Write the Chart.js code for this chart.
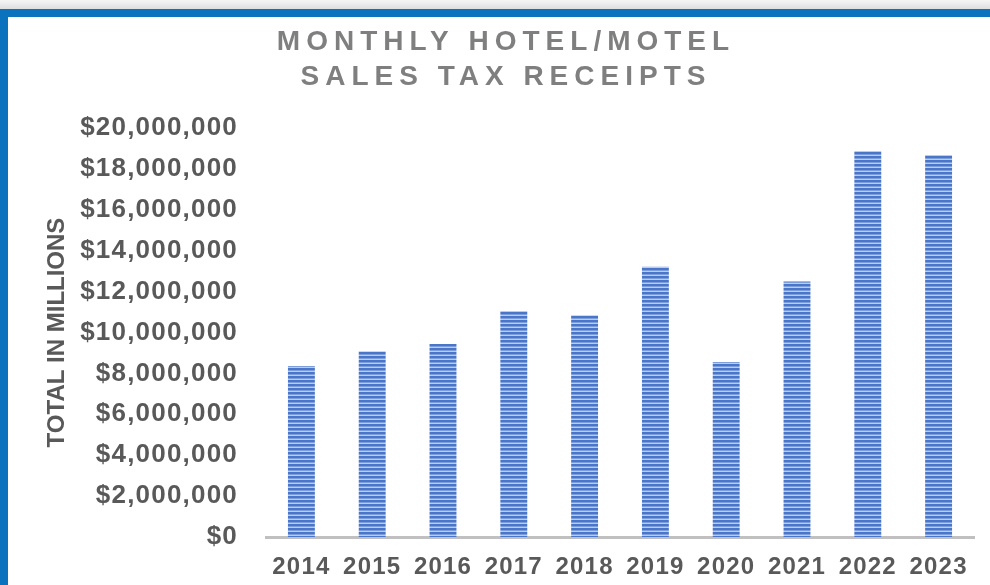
<!DOCTYPE html>
<html>
<head>
<meta charset="utf-8">
<script src="https://cdn.jsdelivr.net/npm/chart.js@4"></script>
<style>
body { margin: 0; background: #fff; }
#wrap { position: relative; width: 990px; height: 585px; overflow: hidden; background: #fff; }
#shade { position: absolute; left: 0; top: 0; width: 990px; height: 9px; background: linear-gradient(#f6f6f6, #dedede); }
#frame { position: absolute; left: 0; top: 9px; width: 1000px; height: 600px; box-sizing: border-box;
  border-top: 8px solid #0b72bd; border-left: 8px solid #0b72bd; }
#MyChart { position: absolute; left: 0; top: 0; }
</style>
</head>
<body>
<div id="wrap">
  <div id="shade"></div>
  <div id="frame"></div>
  <canvas id="MyChart" width="990" height="585"></canvas>
</div>
<script>
const years = ['2014', '2015', '2016', '2017', '2018', '2019', '2020', '2021', '2022', '2023'];
const receipts = [8360000, 9080000, 9440000, 11050000, 10840000, 13220000, 8560000, 12500000, 18880000, 18680000];
const titleLines = ['MONTHLY HOTEL/MOTEL', 'SALES TAX RECEIPTS'];
const yTitle = 'TOTAL IN MILLIONS';

window.addEventListener('load', setup);

function stripes(ctx) {
  const c = document.createElement('canvas');
  c.width = 8;
  c.height = 4;
  const g = c.getContext('2d');
  g.fillStyle = '#bccdec';
  g.fillRect(0, 0, 8, 4);
  g.fillStyle = '#4a76c9';
  g.fillRect(0, 0, 8, 2);
  g.fillStyle = '#7e9ddb';
  g.fillRect(0, 2, 8, 1);
  return ctx.createPattern(c, 'repeat');
}

// wider tick text, and the title drawn by hand so it can get letter spacing
const spacedText = {
  id: 'spacedText',
  beforeDraw(chart) {
    [chart.scales.x, chart.scales.y].forEach(s => {
      if (s._spaced) return;
      const orig = s.drawLabels.bind(s);
      s.drawLabels = area => {
        chart.ctx.letterSpacing = '1.2px';
        orig(area);
        chart.ctx.letterSpacing = '0px';
      };
      s._spaced = true;
    });
  },
  afterDraw(chart) {
    const ctx = chart.ctx;
    ctx.save();
    ctx.font = 'bold 28px "Liberation Sans", Arial, sans-serif';
    ctx.fillStyle = '#7f7f7f';
    ctx.textAlign = 'center';
    ctx.textBaseline = 'middle';
    ctx.letterSpacing = '6px';
    ctx.fillText(titleLines[0], 506, 42);
    ctx.fillText(titleLines[1], 506, 77);
    ctx.restore();
  }
};

function setup() {
  const ctx = document.getElementById('MyChart').getContext('2d');
  const tickFont = { family: '"Liberation Sans", Arial, sans-serif', weight: 'bold' };

  new Chart(ctx, {
    type: 'bar',
    data: {
      labels: years,
      datasets: [{
        data: receipts,
        backgroundColor: stripes(ctx),
        borderWidth: 0,
        categoryPercentage: 1,
        barPercentage: 0.38
      }]
    },
    options: {
      responsive: false,
      animation: false,
      layout: { padding: { top: 128, left: 43, right: 16, bottom: 0 } },
      plugins: {
        legend: { display: false },
        tooltip: { enabled: false }
      },
      scales: {
        x: {
          grid: { display: false, drawTicks: false },
          border: { display: true, color: '#c0c0c0', width: 3 },
          ticks: { color: '#595959', padding: 16, font: { ...tickFont, size: 24 } },
          afterFit(scale) { scale.height = 48; }
        },
        y: {
          min: 0,
          max: 20000000,
          grid: { display: false, drawTicks: false },
          border: { display: false },
          ticks: {
            stepSize: 2000000,
            color: '#595959',
            padding: 28,
            font: { ...tickFont, size: 26 },
            callback: v => '$' + v.toLocaleString('en-US')
          },
          title: {
            display: true,
            text: yTitle,
            color: '#595959',
            padding: 0,
            font: { ...tickFont, size: 24 }
          },
          afterFit(scale) { scale.width = 223; }
        }
      }
    },
    plugins: [spacedText]
  });
}
</script>
</body>
</html>
